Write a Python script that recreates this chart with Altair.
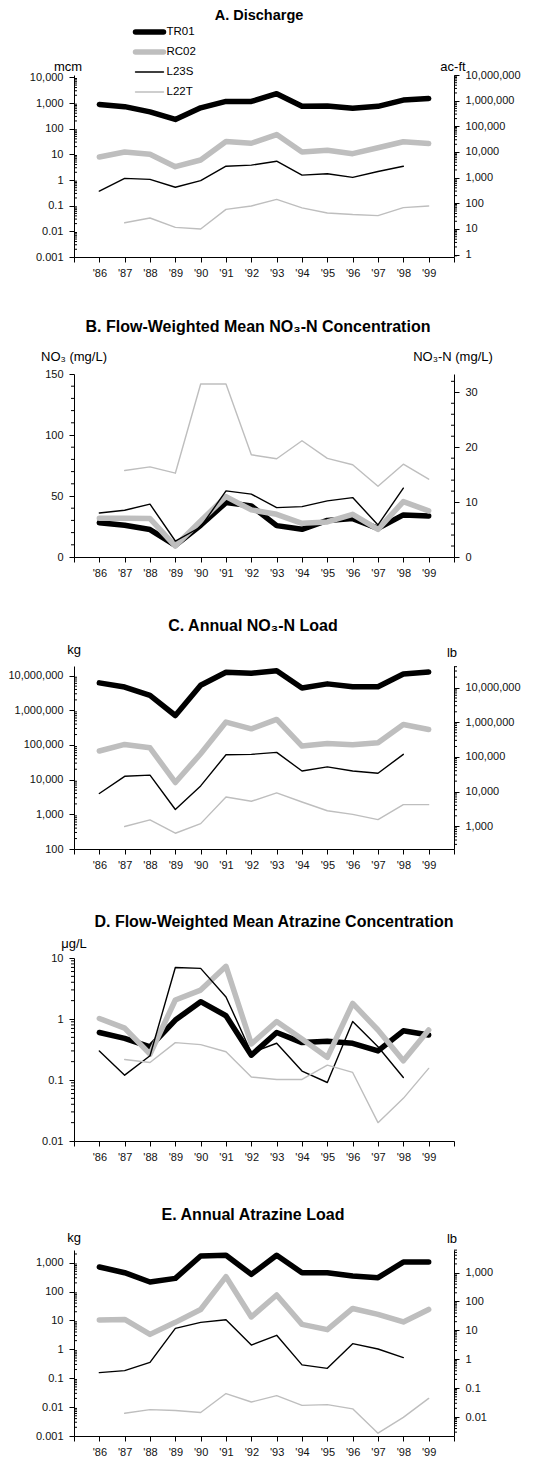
import math

import altair as alt
import pandas as pd

# ---- data -----------------------------------------------------------------
YEARS = list(range(1986, 2000))
AXIS_YEARS = list(range(1985, 2001))
SITES = ["TR01", "RC02", "L23S", "L22T"]
SITE_COLORS = ["#000000", "#bebebe", "#000000", "#bebebe"]
SITE_WIDTHS = [5.5, 5.5, 1.4, 1.4]

# A. Discharge, million cubic metres
DIS_TR01 = [880, 720, 450, 230, 650, 1150, 1150, 2300, 750, 760, 620, 740, 1300, 1500]
DIS_RC02 = [7.9, 12.3, 10, 3.3, 6.0, 31.6, 27, 59, 12.3, 14.3, 10.6, 18, 31, 26.5]
DIS_L23S = [0.37, 1.16, 1.06, 0.52, 0.94, 3.45, 3.8, 5.4, 1.55, 1.75, 1.26, 2.15, 3.45, None]
DIS_L22T = [None, 0.0215, 0.033, 0.0143, 0.0123, 0.072, 0.097, 0.175, 0.082, 0.052, 0.045, 0.041, 0.084, 0.097]

# B. Flow-weighted mean NO3 concentration, mg/L
NO3C_TR01 = [28, 26, 22.5, 9.5, 26, 44.6, 41.9, 25.7, 22.7, 30, 31.5, 23.5, 34.5, 33.7]
NO3C_RC02 = [31.8, 31.8, 31.5, 9, 29.6, 49.5, 38.6, 35, 27.6, 28.7, 35, 22.7, 45.4, 37.8]
NO3C_L23S = [36.1, 38.3, 43.3, 13.1, 24.6, 54.2, 51.5, 40.5, 41.3, 46, 48.7, 26.3, 56.4, None]
NO3C_L22T = [None, 70.9, 73.9, 68.7, 141.8, 141.8, 83.8, 80.5, 95.3, 80.8, 75.6, 58, 76.1, 63.8]

# C. Annual NO3-N load, kg
NO3L_TR01 = [6.2e6, 4.7e6, 2.7e6, 7.1e5, 5.3e6, 1.25e7, 1.17e7, 1.39e7, 4.4e6, 5.8e6, 4.8e6, 4.8e6, 1.12e7, 1.27e7]
NO3L_RC02 = [67000, 104000, 83000, 8300, 56000, 458000, 293000, 546000, 93000, 111000, 102000, 116000, 390000, 281000]
NO3L_L23S = [4000, 12500, 13500, 1380, 6600, 52500, 53800, 61300, 17800, 23300, 17800, 15300, 53800, None]
NO3L_L22T = [None, 445, 690, 285, 540, 3160, 2380, 4150, 2270, 1270, 1000, 705, 1900, 1900]

# D. Flow-weighted mean atrazine concentration, ug/L
ATZC_TR01 = [0.6, 0.48, 0.35, 0.96, 1.92, 1.13, 0.255, 0.6, 0.41, 0.43, 0.40, 0.30, 0.64, 0.545]
ATZC_RC02 = [1.02, 0.71, 0.265, 2.05, 2.98, 7.3, 0.39, 0.91, 0.47, 0.235, 1.8, 0.66, 0.206, 0.66]
ATZC_L23S = [0.30, 0.12, 0.25, 7.0, 6.76, 2.3, 0.28, 0.40, 0.14, 0.091, 0.91, 0.35, 0.11, None]
ATZC_L22T = [None, 0.217, 0.194, 0.41, 0.38, 0.29, 0.112, 0.102, 0.102, 0.175, 0.133, 0.02, 0.05, 0.155]

# E. Annual atrazine load, kg
ATZL_TR01 = [710, 450, 215, 287, 1700, 1800, 395, 1800, 450, 450, 345, 302, 1050, 1050]
ATZL_RC02 = [10.4, 10.9, 3.3, 8.6, 24, 328, 13.2, 76, 7.3, 4.8, 26, 16.3, 8.9, 24]
ATZL_L23S = [0.156, 0.183, 0.355, 5.3, 8.6, 10.6, 1.41, 3.06, 0.29, 0.22, 1.57, 1.03, 0.52, None]
ATZL_L22T = [None, 0.0061, 0.0082, 0.0076, 0.0065, 0.0295, 0.015, 0.025, 0.0115, 0.0122, 0.0087, 0.00125, 0.0044, 0.02]

TITLES = [
    "A.  Discharge",
    "B.  Flow-Weighted Mean NO\u2083-N Concentration",
    "C.  Annual NO\u2083-N Load",
    "D.  Flow-Weighted Mean Atrazine Concentration",
    "E.  Annual Atrazine Load",
]

# unit conversions for the secondary axes
MCM_TO_ACFT = 810.7
KG_TO_LB = 2.2046
NO3_PER_N = 4.5

# ---- styling --------------------------------------------------------------
FONT = "Liberation Sans"
W = 380
H = 183
LINE_COLOR = "#000000"
TEXT_COLOR = "#111111"
TICK_FONT = 11

YEAR_LABEL = ("datum.value > 1985 && datum.value < 2000 ? "
              "\"'\" + substring(format(datum.value, 'd'), 2, 4) : ''")

COLOR_SCALE = alt.Scale(domain=SITES, range=SITE_COLORS)


def log_minor(lo, hi):
    out = []
    for k in range(math.floor(math.log10(lo)), math.ceil(math.log10(hi)) + 1):
        for m in range(2, 10):
            v = m * 10.0 ** k
            if lo <= v <= hi:
                out.append(v)
    return out


def x_enc():
    return alt.X(
        "year:Q",
        scale=alt.Scale(domain=[1985, 2000], nice=False, zero=False),
        axis=alt.Axis(values=AXIS_YEARS, labelExpr=YEAR_LABEL, title=None, grid=False,
                      tickSize=5, labelPadding=5, labelFontSize=TICK_FONT, labelOverlap=False,
                      labelFlush=False, domainColor=LINE_COLOR, tickColor=LINE_COLOR,
                      labelColor=TEXT_COLOR),
    )


def y_axis(values, orient, fmt):
    return alt.Axis(values=values, orient=orient, format=fmt, title=None, grid=False,
                    tickSize=5, labelPadding=6, labelFontSize=TICK_FONT, labelOverlap=False,
                    labelFlush=False, domainColor=LINE_COLOR, tickColor=LINE_COLOR,
                    labelColor=TEXT_COLOR)


def text_layer(text, x, y, size, weight="normal"):
    return alt.Chart(pd.DataFrame({"t": [text]})).mark_text(
        fontSize=size, fontWeight=weight, align="center", baseline="middle", color="#000000"
    ).encode(text="t:N", x=alt.value(x), y=alt.value(y))


def legend_layers(x_start, x_end, y_first, y_last):
    """Key of the four sites: a line sample and the site name per row."""
    row = alt.Scale(type="point", domain=SITES, range=[y_first, y_last], padding=0)
    layers = []
    for i, site in enumerate(SITES):
        layers.append(
            alt.Chart(pd.DataFrame({"site": [site]})).mark_rule(
                strokeWidth=SITE_WIDTHS[i], strokeCap="round").encode(
                x=alt.value(x_start), x2=alt.value(x_end),
                y=alt.Y("site:N", scale=row, axis=None),
                color=alt.Color("site:N", scale=COLOR_SCALE, legend=None))
        )
    layers.append(
        alt.Chart(pd.DataFrame({"site": SITES})).mark_text(
            align="left", baseline="middle", fontSize=11.5, color="#000000").encode(
            x=alt.value(x_end + 3), y=alt.Y("site:N", scale=row, axis=None), text="site:N")
    )
    return layers


def panel(series, ldom, lticks, lminor, lminor_in, title, title_pos, title_size,
          ltitle, ltitle_pos, log=True, rdom=None, rticks=None, rminor=None,
          rminor_out=True, rtitle=None, rtitle_pos=None, extra=(), height=H):
    stype = "log" if log else "linear"
    fmt = ",.10~g" if log else "d"
    lscale = alt.Scale(type=stype, domain=ldom, nice=False, zero=False)
    layers = []
    for i, site in enumerate(SITES):
        df = pd.DataFrame({"year": YEARS, "value": series[i], "site": site}).dropna()
        layers.append(
            alt.Chart(df).mark_line(strokeWidth=SITE_WIDTHS[i], strokeCap="round",
                                    strokeJoin="round").encode(
                x=x_enc(),
                y=alt.Y("value:Q", scale=lscale,
                        axis=y_axis(lticks, "left", fmt) if i == 0 else None),
                color=alt.Color("site:N", scale=COLOR_SCALE, legend=None),
            )
        )
    # minor ticks on the left axis
    x0, x1 = (0, 3) if lminor_in else (-3, 0)
    layers.append(
        alt.Chart(pd.DataFrame({"v": lminor})).mark_rule(color=LINE_COLOR, strokeWidth=1).encode(
            y=alt.Y("v:Q", scale=lscale, axis=None), x=alt.value(x0), x2=alt.value(x1))
    )
    if rdom is not None:
        rscale = alt.Scale(type=stype, domain=rdom, nice=False, zero=False)
        x0, x1 = (W, W + 3) if rminor_out else (W - 3, W)
        layers.append(
            alt.Chart(pd.DataFrame({"v": rminor})).mark_rule(color=LINE_COLOR, strokeWidth=1).encode(
                y=alt.Y("v:Q", scale=rscale, axis=y_axis(rticks, "right", fmt)),
                x=alt.value(x0), x2=alt.value(x1))
        )
        layers.append(text_layer(rtitle, rtitle_pos[0], rtitle_pos[1], 13))
    layers.append(text_layer(ltitle, ltitle_pos[0], ltitle_pos[1], 13))
    layers.append(text_layer(title, title_pos[0], title_pos[1], title_size, "bold"))
    layers.extend(extra)
    return alt.layer(*layers).resolve_scale(y="independent").properties(width=W, height=height)


# A. Discharge
a_dom = [0.001, 1e7 / MCM_TO_ACFT]
panel_a = panel(
    [DIS_TR01, DIS_RC02, DIS_L23S, DIS_L22T],
    a_dom, [0.001, 0.01, 0.1, 1, 10, 100, 1000, 10000], log_minor(*a_dom), True,
    TITLES[0], (185, -59), 14.5, "mcm", (-6, -8),
    rdom=[a_dom[0] * MCM_TO_ACFT, a_dom[1] * MCM_TO_ACFT],
    rticks=[1, 10, 100, 1000, 10000, 100000, 1000000, 10000000],
    rminor=log_minor(a_dom[0] * MCM_TO_ACFT, a_dom[1] * MCM_TO_ACFT),
    rtitle="ac-ft", rtitle_pos=(W - 1, -8),
    extra=legend_layers(61.5, 89.5, -43, 17), height=182,
)

# B. NO3 concentration
b_dom = [0, 150]
b_rdom = [0, 150 / NO3_PER_N]
panel_b = panel(
    [NO3C_TR01, NO3C_RC02, NO3C_L23S, NO3C_L22T],
    b_dom, [0, 50, 100, 150], [v for v in range(10, 150, 10) if v % 50], False,
    TITLES[1], (184, -47), 16, "NO\u2083 (mg/L)", (0, -17), log=False,
    rdom=b_rdom, rticks=[0, 10, 20, 30],
    rminor=[v for v in range(2, 34, 2) if v % 10], rminor_out=False,
    rtitle="NO\u2083-N (mg/L)", rtitle_pos=(W - 1, -17),
)

# C. NO3-N load
c_dom = [100, 1.9e7]
panel_c = panel(
    [NO3L_TR01, NO3L_RC02, NO3L_L23S, NO3L_L22T],
    c_dom, [100, 1000, 10000, 100000, 1000000, 10000000], log_minor(*c_dom), True,
    TITLES[2], (179, -40), 16, "kg", (0, -16),
    rdom=[c_dom[0] * KG_TO_LB, c_dom[1] * KG_TO_LB],
    rticks=[1000, 10000, 100000, 1000000, 10000000],
    rminor=log_minor(c_dom[0] * KG_TO_LB, c_dom[1] * KG_TO_LB),
    rtitle="lb", rtitle_pos=(W - 2, -13),
)

# D. Atrazine concentration
d_dom = [0.01, 10]
panel_d = panel(
    [ATZC_TR01, ATZC_RC02, ATZC_L23S, ATZC_L22T],
    d_dom, [0.01, 0.1, 1, 10], log_minor(*d_dom), False,
    TITLES[3], (200, -36), 16, "\u03bcg/L", (0, -14),
)

# E. Atrazine load (axis runs a little higher than 1,000 kg)
e_dom = [0.001, 2750]
panel_e = panel(
    [ATZL_TR01, ATZL_RC02, ATZL_L23S, ATZL_L22T],
    e_dom, [0.001, 0.01, 0.1, 1, 10, 100, 1000], log_minor(*e_dom), True,
    TITLES[4], (179, -35), 16, "kg", (0, -12),
    rdom=[e_dom[0] * KG_TO_LB, e_dom[1] * KG_TO_LB],
    rticks=[0.01, 0.1, 1, 10, 100, 1000],
    rminor=log_minor(e_dom[0] * KG_TO_LB, e_dom[1] * KG_TO_LB),
    rtitle="lb", rtitle_pos=(W - 2, -11), height=186,
)

lower = alt.vconcat(panel_b, panel_c, panel_d, panel_e, spacing=109, bounds="flush")
chart = (
    alt.vconcat(panel_a, lower, spacing=117, bounds="flush")
    .properties(padding={"left": 7, "top": 8, "right": 2, "bottom": 0})
    .configure(font=FONT)
    .configure_view(stroke=None)
)

chart.save("out.html", embed_options={"renderer": "svg", "actions": False})
